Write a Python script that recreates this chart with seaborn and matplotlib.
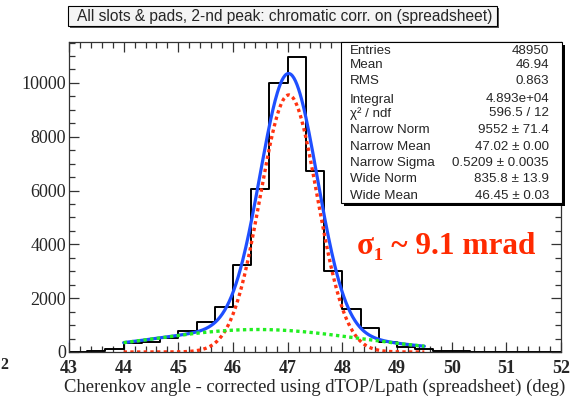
import numpy as np
import pandas as pd
import matplotlib
matplotlib.use("Agg")
import matplotlib.pyplot as plt
import matplotlib.transforms as mtransforms
import seaborn as sns
from matplotlib.ticker import MultipleLocator
from matplotlib.patches import Rectangle

# ---------------- data ----------------
x_min, x_max = 43.0, 52.0
n_bins = 27
counts = [15, 30, 110, 330, 390, 520, 790, 1130, 1670, 3250, 6060, 10010, 10950,
          6730, 3020, 1600, 903, 384, 197, 100, 35, 20, 15, 10, 8, 5, 5]

narrow_norm, narrow_mean, narrow_sigma = 9552.0, 47.02, 0.5209
wide_norm, wide_mean, wide_sigma = 835.8, 46.45, 1.85
fit_lo, fit_hi = 44.0, 49.5

stat_labels = ["Entries", "Mean", "RMS", "Integral", "\u03c7\u00b2 / ndf", "Narrow Norm",
               "Narrow Mean", "Narrow Sigma", "Wide Norm", "Wide Mean"]
stat_values = ["48950", "46.94", "0.863", "4.893e+04", "596.5 / 12", "9552 \u00b1 71.4",
               "47.02 \u00b1 0.00", "0.5209 \u00b1 0.0035", "835.8 \u00b1 13.9", "46.45 \u00b1 0.03"]

title = "All slots & pads, 2-nd peak: chromatic corr. on (spreadsheet)"
xlabel = "Cherenkov angle - corrected using dTOP/Lpath (spreadsheet) (deg)"
annot = "\u03c3\u2081 ~ 9.1 mrad"

# ---------------- figure ----------------
W, H = 575, 396
sns.set_style("ticks")
plt.rcParams["font.family"] = ["Liberation Serif", "DejaVu Serif"]

fig = plt.figure(figsize=(W / 100, H / 100), dpi=100)

def fx(px):
    return px / W

def fy(py):
    return 1 - py / H

ax = fig.add_axes([fx(69), fy(352), fx(561) - fx(69), fy(42) - fy(352)])

hist_df = pd.DataFrame({"angle": np.linspace(x_min, x_max, n_bins + 1)[:-1] + (x_max - x_min) / n_bins / 2,
                        "count": counts})
sns.histplot(data=hist_df, x="angle", weights="count", bins=n_bins, binrange=(x_min, x_max),
             element="step", fill=False, color="black", linewidth=1.4, ax=ax)

xf = np.linspace(fit_lo, fit_hi, 400)
narrow = narrow_norm * np.exp(-0.5 * ((xf - narrow_mean) / narrow_sigma) ** 2)
wide = wide_norm * np.exp(-0.5 * ((xf - wide_mean) / wide_sigma) ** 2)
total = narrow + wide
sns.lineplot(x=xf, y=total, color="#1f4fff", linewidth=2.3, estimator=None, ax=ax)
sns.lineplot(x=xf, y=narrow, color="#ff3311", linewidth=2.4, estimator=None,
             linestyle=(0, (1, 1)), ax=ax)
sns.lineplot(x=xf, y=wide, color="#22ee22", linewidth=2.4, estimator=None,
             linestyle=(0, (1, 1)), ax=ax)

ax.set_xlim(x_min, x_max)
ax.set_ylim(0, 11520)
ax.xaxis.set_major_locator(MultipleLocator(1))
ax.xaxis.set_minor_locator(MultipleLocator(0.2))
ax.yaxis.set_major_locator(MultipleLocator(2000))
ax.yaxis.set_minor_locator(MultipleLocator(500))
ax.tick_params(which="both", direction="in", top=True, right=True, color="#333333")
ax.tick_params(which="major", length=7.5, width=0.9)
ax.tick_params(which="minor", length=4, width=0.9)
ax.tick_params(axis="x", which="major", pad=6, labelsize=13)
ax.tick_params(axis="y", which="major", pad=2, labelsize=13)
for lab in ax.get_xticklabels():
    lab.set_fontweight("bold")
for s in ax.spines.values():
    s.set_linewidth(0.9)
    s.set_color("#333333")
ax.set_ylabel("")
ax.set_xlabel(xlabel, fontsize=13.4, labelpad=1)

fig.canvas.draw()
ylabs = ax.get_yticklabels()
if ylabs:
    ylabs[0].set_transform(ylabs[0].get_transform() +
                           mtransforms.ScaledTranslation(0, 6 / 100, fig.dpi_scale_trans))

# label fragment at far left
fig.text(fx(0.5), fy(365), "2", ha="left", va="center", fontsize=11.5, fontweight="bold")

# title box with shadow
tb_x0, tb_y0, tb_x1, tb_y1 = 68, 6, 497, 26
fig.patches.append(Rectangle((fx(tb_x0 + 2), fy(tb_y1 + 2)), fx(tb_x1) - fx(tb_x0),
                             fy(tb_y0) - fy(tb_y1), transform=fig.transFigure,
                             facecolor="#555555", edgecolor="none", zorder=5))
fig.patches.append(Rectangle((fx(tb_x0), fy(tb_y1)), fx(tb_x1) - fx(tb_x0),
                             fy(tb_y0) - fy(tb_y1), transform=fig.transFigure,
                             facecolor="#f4f4f4", edgecolor="black", linewidth=0.8, zorder=6))
fig.text(fx(285), fy(16.5), title, ha="center", va="center", fontsize=11.2,
         family="Liberation Sans", zorder=7)

# stats box with shadow
sb_x0, sb_y0, sb_x1, sb_y1 = 341, 42, 562, 203
fig.patches.append(Rectangle((fx(sb_x0 + 3), fy(sb_y1 + 3)), fx(sb_x1) - fx(sb_x0),
                             fy(sb_y0) - fy(sb_y1), transform=fig.transFigure,
                             facecolor="black", edgecolor="none", zorder=5))
fig.patches.append(Rectangle((fx(sb_x0), fy(sb_y1)), fx(sb_x1) - fx(sb_x0),
                             fy(sb_y0) - fy(sb_y1), transform=fig.transFigure,
                             facecolor="white", edgecolor="black", linewidth=0.8, zorder=6))
row_y = [50.5, 65.5, 80.5, 99.5, 113.5, 130, 147, 163, 179.5, 195.5]
for lab, val, yy in zip(stat_labels, stat_values, row_y):
    fig.text(fx(350), fy(yy), lab, ha="left", va="center", fontsize=9.6,
             family="Liberation Sans", zorder=7)
    fig.text(fx(549), fy(yy), val, ha="right", va="center", fontsize=9.6,
             family="Liberation Sans", zorder=7)

# annotation
fig.text(fx(357), fy(247), annot, ha="left", va="center", fontsize=22.5, fontweight="bold",
         color="#ff2a00", family=["Liberation Serif", "DejaVu Serif"])

fig.savefig("out.png", dpi=100)
